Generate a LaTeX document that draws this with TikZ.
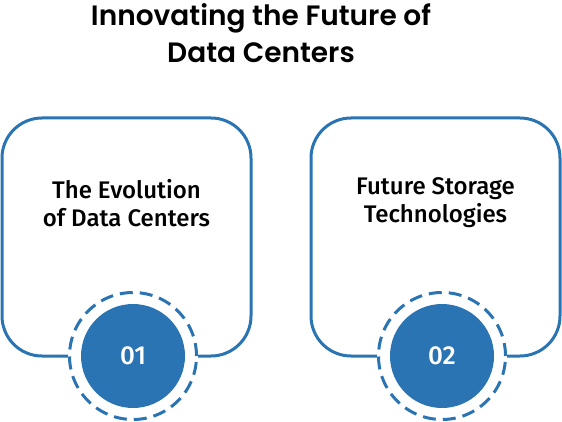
\documentclass[tikz,border=0pt]{standalone}
\usepackage{fontspec}
\setmainfont{Fira Sans}
\newfontfamily\medfont{Fira Sans Medium}
\newfontfamily\titlefont{Poppins SemiBold}
\usetikzlibrary{positioning}
\definecolor{dcblue}{HTML}{2A74B3}
\tikzset{
  frame/.style={draw=dcblue, line width=3pt, rounded corners=40pt},
  ring/.style={circle, draw=dcblue, line width=3pt, dash pattern=on 13pt off 7pt,
    minimum size=127pt, inner sep=0pt},
  badge/.style={circle, fill=dcblue, minimum size=104pt, inner sep=0pt, text=white,
    font=\fontsize{26}{26}\selectfont\medfont},
  boxtext/.style={align=center, font=\fontsize{24}{28}\selectfont\medfont},
  title/.style={align=center, font=\fontsize{28}{37}\selectfont\titlefont},
}
\begin{document}
\begin{tikzpicture}[x=1pt, y=-1pt]
  \useasboundingbox (0,0) rectangle (562,422);
  \node[title] (title) at (261,33) {Innovating the Future of\\Data Centers};
  \foreach \bx/\num/\txt in {2/01/{The Evolution\\of Data Centers}, 311/02/{Future Storage\\Technologies}} {
    \node[badge] (badge\num) at (\bx+131,356) {\num};
    \node[ring] (ring\num) at (badge\num) {};
    \node[boxtext] (text\num) at (\bx+124.5,203) {\txt};
    \draw[frame] (ring\num.west) -- (\bx,356) -- (\bx,118) -- (\bx+249,118)
      -- (\bx+249,356) -- (ring\num.east);
  }
\end{tikzpicture}
\end{document}
